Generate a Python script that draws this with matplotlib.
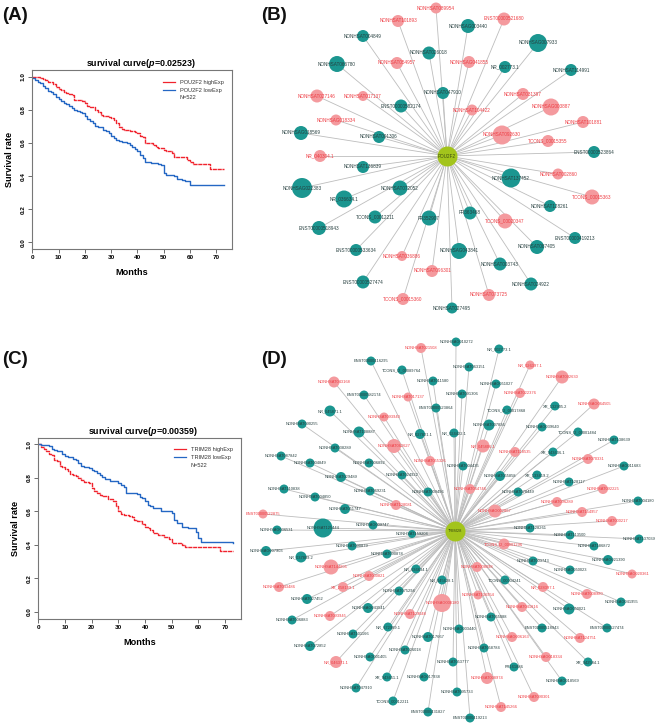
import matplotlib
matplotlib.use("Agg")
import matplotlib.pyplot as plt
from matplotlib.lines import Line2D

plt.rcParams['font.family'] = ['Liberation Sans', 'DejaVu Sans']
plt.rcParams['mathtext.fontset'] = 'custom'
plt.rcParams['mathtext.bfit'] = 'Liberation Sans:italic:bold'
plt.rcParams['mathtext.rm'] = 'Liberation Sans:bold'

W, H = 660, 726
RED, BLUE = '#f0232d', '#2467c4'
PINK, TEAL, HUB = '#f49a9e', '#1b9690', '#a3c41c'
PINK_TXT, TEAL_TXT = '#ee3b42', '#263f3f'

####### survival curves (months, survival rate)
a_high_t = [0, 1, 2, 3, 4, 5, 6, 7, 8, 9, 10, 11, 12, 13, 14, 15, 16, 18, 19, 20, 21, 22, 23, 24, 25, 26, 27, 28, 29, 30, 31, 32, 33, 34, 35, 37, 39, 40, 41, 42, 43, 45, 46, 47, 48, 50, 51, 53, 54, 59, 60, 61, 67.5, 73]
a_high_s = [1.0, .998, .995, .99, .985, .98, .97, .965, .955, .94, .925, .918, .91, .90, .895, .89, .86, .857, .855, .84, .825, .818, .815, .80, .785, .77, .765, .76, .755, .75, .74, .72, .695, .685, .675, .672, .665, .66, .64, .635, .60, .60, .59, .575, .57, .555, .55, .54, .515, .50, .485, .475, .445, .445]
a_low_t = [0, 1, 2, 3, 4, 5, 6, 7, 8, 9, 10, 11, 12, 13, 14, 15, 16, 17, 18, 19, 20, 21, 22, 23, 24, 25, 27, 28, 29, 30, 31, 32, 33, 34, 36, 37, 38, 39, 40, 41, 42, 43, 45, 48, 49, 50, 51, 54, 55, 57, 58, 60, 73]
a_low_s = [.99, .98, .97, .96, .945, .93, .915, .905, .895, .88, .865, .855, .84, .835, .82, .81, .80, .79, .785, .78, .765, .745, .73, .72, .705, .695, .68, .67, .66, .64, .63, .62, .61, .605, .60, .585, .575, .565, .55, .53, .51, .485, .48, .47, .465, .42, .405, .40, .38, .375, .37, .345, .345]

c_high_t = [0, 1, 2, 3, 4, 5, 6, 7, 8, 9, 10, 11, 12, 13, 14, 15, 16, 17, 19, 20, 21, 22, 23, 24, 25, 26, 28, 29, 30, 31, 32, 34, 35, 36, 37, 39, 40, 41, 42, 43, 45, 47, 49, 50, 54, 55, 67, 68, 73]
c_high_s = [1.0, .985, .975, .96, .94, .935, .905, .90, .87, .865, .855, .84, .825, .815, .81, .80, .785, .775, .77, .74, .72, .71, .70, .695, .69, .675, .66, .63, .60, .585, .58, .57, .565, .55, .54, .525, .51, .50, .49, .47, .46, .445, .435, .41, .40, .385, .385, .365, .365]
c_low_t = [0, 1, 4, 5, 6, 7, 9, 10, 11, 13, 14, 15, 16, 17, 19, 20, 21, 22, 23, 24, 25, 27, 30, 31, 32, 33, 37, 38, 39, 40, 41, 42, 43, 46, 50, 51, 52, 54, 56, 59, 60, 61, 73]
c_low_s = [1.0, .995, .99, .97, .965, .96, .945, .93, .925, .915, .905, .89, .87, .865, .86, .85, .84, .83, .82, .805, .795, .78, .77, .76, .745, .71, .705, .685, .68, .66, .64, .63, .62, .605, .59, .55, .53, .51, .50, .48, .44, .415, .41]

####### network B
b_hub = "POU2F2"
b_hub_xy = (447, 156)
b_teal_names = ["NONHSAT004849", "NONHSAT026018", "NONHSAT066780", "NONHSAT047910", "ENST00000582174",
                "NONHSAG018569", "NONHSAT091306", "NONHSAG003440", "NONHSAG007933", "NR_002773.1",
                "NONHSAT114991", "ENST00000523864", "NONHSAT136839", "NONHSAG022383", "NR_036634.1",
                "NONHSAT072052", "TCONS_00012211", "FR352907", "ENST00000518943", "ENST00000533634",
                "ENST00000527474", "NONHSAT137452", "NONHSAT128261", "FR363468", "ENST00000419213",
                "NONHSAT087405", "NONHSAG043841", "NONHSAT003743", "NONHSAT024922", "NONHSAT027495"]
b_teal_x = [363, 429, 337, 443, 401, 301, 379, 468, 538, 505, 571, 594, 363, 302, 344,
            400, 375, 429, 319, 356, 363, 511, 550, 470, 575, 537, 459, 500, 531, 452]
b_teal_y = [36, 53, 64, 93, 106, 133, 137, 26, 43, 67, 70, 152, 167, 188, 199,
            188, 217, 218, 228, 250, 282, 178, 206, 213, 238, 247, 251, 264, 284, 308]
b_teal_r = [6, 6.5, 8, 6, 6.5, 7, 6, 7, 9, 6, 6, 6, 6, 10, 8.5,
            7.5, 6.5, 7.5, 7, 6, 6.5, 9.5, 6, 6.5, 6, 7, 8, 6.5, 6.5, 5.5]
b_pink_names = ["NONHSAT089954", "NONHSAT101893", "NONHSAT054957", "NONHSAT027146", "NONHSAT017137",
                "NONHSAG018334", "NR_040304.1", "ENST00000521680", "NONHSAG041855", "NONHSAT031397",
                "NONHSAG003887", "NONHSAT104422", "NONHSAT101881", "NONHSAT092630", "TCONS_00015355",
                "NONHSAT036886", "NONHSAT096301", "TCONS_00015360", "NONHSAT002860", "TCONS_00015363",
                "TCONS_00020347", "NONHSAT073725"]
b_pink_x = [436, 398, 397, 317, 363, 336, 320, 504, 469, 523, 551, 472, 583, 502, 548,
            402, 432, 403, 558, 592, 505, 489]
b_pink_y = [8, 21, 63, 96, 96, 120, 156, 19, 62, 94, 107, 110, 122, 135, 141,
            256, 271, 299, 174, 197, 221, 295]
b_pink_r = [5.5, 6, 6, 6.5, 5, 5.5, 6, 6.5, 6, 6, 8.5, 5.5, 6, 9.5, 6,
            5, 6, 6, 5.5, 7.5, 7.5, 6]

####### network D
d_hub = "TRIM28"
d_hub_xy = (455, 531)
d_teal_names = ["ENST00000416295", "TCONS_l2_00089764", "NONHSAT011580", "ENST00000582174", "ENST00000523864",
                "NR_045871.1", "NONHSAT090255", "NONHSAT108887", "NR_027821.1", "NONHSAT038289",
                "NONHSAT087842", "NONHSAT004849", "NONHSAT006892", "NONHSAT024922", "NONHSAT029489",
                "NONHSAT110838", "NONHSAT069231", "NONHSAT009456", "NONHSAT004850", "NONHSAT051747",
                "NONHSAG009747", "NONHSAT125444", "NONHSAG036531", "NONHSAT159204", "NONHSAT090879",
                "NONHSAG007903", "NONHSAT090878", "NR_037809.2", "NR_036634.1", "NR_045628.1",
                "NONHSAT075294", "NONHSAT027452", "NONHSAG043541", "NONHSAT006883", "NR_672989.1",
                "NONHSAT101166", "NONHSAT017667", "NONHSAT072852", "NONHSAT026018", "NONHSAG001405",
                "NONHSAG017938", "XR_943651.1", "NONHSAT047910", "TCONS_00012211", "ENST00000431827",
                "NONHSAG050021", "NONHSAG041955", "NONHSAT055088", "NONHSAG003440", "ENST00000518943",
                "ENST00000527474", "NONHSAT058784", "NONHSAT053777", "XR_942584.1", "FR161886",
                "NONHSAG018569", "NONHSAT095733", "ENST00000419213", "NONHSAG010272", "NR_002773.1",
                "NONHSAT063151", "NONHSAG051027", "NONHSAT091306", "XR_132905.2", "TCONS_l2_00017868",
                "NONHSAT007836", "NONHSAG039640", "NR_024422.1", "TCONS_l2_00001484", "NONHSAT138639",
                "XR_943636.1", "NONHSAG011683", "NONHSAT004435", "NONHSAT055858", "XR_133419.2",
                "NONHSAT128117", "NONHSAT078449", "NONHSAT004180", "NONHSAT128261", "NONHSAT113500",
                "NONHSAT137039", "NONHSAT186872", "NONHSAT003743", "NONHSAG021390", "NONHSAG050023",
                "TCONS_00004241"]
d_teal_x = [371, 402, 433, 364, 436, 330, 302, 359, 420, 335, 281, 310, 369, 402, 341,
            284, 370, 428, 315, 345, 373, 323, 277, 412, 352, 266, 387, 301, 416, 442,
            399, 307, 368, 292, 388, 353, 428, 310, 405, 370, 424, 387, 356, 393, 428,
            569, 621, 491, 459, 542, 607, 484, 453, 588, 514, 562, 457, 470, 456, 499,
            469, 496, 462, 555, 507, 489, 542, 454, 578, 614, 553, 624, 463, 500, 537,
            569, 518, 638, 530, 570, 639, 594, 533, 608, 570, 505]
d_teal_y = [361, 370, 381, 395, 408, 411, 424, 432, 434, 448, 456, 463, 463, 475, 477,
            489, 491, 492, 497, 509, 525, 528, 530, 534, 546, 551, 554, 557, 569, 580,
            591, 599, 608, 620, 627, 634, 637, 646, 650, 657, 677, 677, 688, 701, 712,
            609, 602, 617, 629, 628, 628, 648, 662, 662, 667, 681, 692, 718, 342, 349,
            367, 384, 394, 406, 410, 425, 427, 433, 432, 440, 452, 466, 466, 476, 475,
            482, 492, 501, 528, 535, 539, 546, 561, 560, 570, 580]
d_teal_r = [4.5, 4.5, 4.5, 4.5, 4.5, 5.5, 4.5, 5.5, 5, 4.5, 4.5, 4.5, 4.5, 4.5, 5,
            4.5, 4.5, 4.5, 4.5, 5, 4.5, 9.5, 4.5, 4, 4.5, 5, 4.5, 5.5, 4.5, 4.5,
            4.5, 5, 5, 4.5, 4.5, 4.5, 5, 5, 4.5, 4.5, 4.5, 4.5, 4.5, 4.5, 4.5,
            5.5, 4.5, 4.5, 4.5, 4.5, 4.5, 4.5, 4.5, 4.5, 4.5, 4.5, 4.5, 4.5, 4.5, 4.5,
            4.5, 4.5, 4.5, 4.5, 4.5, 5.5, 4.5, 4.5, 4.5, 4.5, 4.5, 4.5, 4.5, 5, 4.5,
            4.5, 4.5, 4.5, 4.5, 4.5, 4.5, 4.5, 4.5, 5, 4.5, 4.5]
d_pink_names = ["NONHSAT021508", "NONHSAT043168", "NONHSAT017137", "NONHSAT093940", "NONHSAT062627",
                "NONHSAT055326", "NONHSAT128081", "ENST00000522875", "NONHSAT144805", "NONHSAT000821",
                "NONHSAT043486", "XR_258139.1", "NONHSAT093945", "NONHSAT129048", "NONHSAG008180",
                "NR_046371.1", "NONHSAT136954", "NONHSAT041816", "NONHSAG006163", "NONHSAT124751",
                "NONHSAG018334", "NONHSAT008974", "NONHSAT090301", "NONHSAT145266", "NR_026397.1",
                "NONHSAT092630", "NONHSAT022376", "NONHSAG064505", "NR_045806.1", "NONHSAT118535",
                "NONHSAT070331", "NONHSAT064746", "NONHSAT092225", "NONHSAT096289", "NONHSAG002867",
                "NONHSAT154957", "NONHSAT000217", "TCONS_l2_00001296", "NONHSAT008098", "NONHSAG020361",
                "NR_028397.1", "NONHSAT008980"]
d_pink_x = [421, 334, 408, 384, 394, 430, 396, 263, 331, 369, 279, 343, 330, 410, 442,
            336, 478, 522, 512, 580, 546, 487, 534, 501, 530, 562, 520, 594, 483, 515,
            588, 470, 603, 557, 495, 582, 612, 504, 477, 632, 543, 587]
d_pink_y = [348, 382, 397, 417, 446, 461, 505, 514, 567, 576, 587, 587, 616, 614, 603,
            662, 595, 607, 637, 638, 657, 678, 697, 707, 365, 377, 393, 404, 446, 452,
            459, 489, 489, 502, 511, 512, 521, 544, 567, 574, 587, 594]
d_pink_r = [5, 5.5, 4.5, 4.5, 7, 5, 5, 4.5, 7.5, 5, 5, 5, 5, 5, 9,
            6, 4.5, 5, 5, 5, 5, 6, 5, 5, 4.5, 6.5, 5, 5.5, 6.5, 5,
            5, 5, 5, 5, 6.5, 5, 5, 5.5, 5, 4.5, 5, 5]


def px_axes(left, top, right, bottom):
    return fig.add_axes([left / W, 1 - bottom / H, (right - left) / W, (bottom - top) / H])


def survival_panel(box, gene, pval, title_x, high, low):
    ax = px_axes(*box)
    ax.step(high[0], high[1], where='post', color=RED, lw=1.0, ls=(0, (3, 0.5)))
    ax.step(low[0], low[1], where='post', color=BLUE, lw=1.0)
    ax.set_xlim(0, 76)
    ax.set_ylim(-0.04, 1.04)
    ax.set_xticks(range(0, 71, 10))
    ax.set_yticks([0, .2, .4, .6, .8, 1.0])
    ax.set_yticklabels(['0.0', '0.2', '0.4', '0.6', '0.8', '1.0'], rotation=90, va='center')
    ax.tick_params(labelsize=4.6, length=3, width=0.5, pad=1.5, color='#333333')
    for lab in ax.get_xticklabels() + ax.get_yticklabels():
        lab.set_fontweight('bold')
    for sp in ax.spines.values():
        sp.set_color('#777777')
        sp.set_linewidth(0.8)
    ax.set_title("survival curve($\\bfit{p}$=%s)" % pval, fontsize=6.4, fontweight='bold', pad=3, x=title_x)
    ax.set_xlabel("Months", fontsize=6.6, fontweight='bold', labelpad=5.5)
    ax.set_ylabel("Survival rate", fontsize=6.6, fontweight='bold', labelpad=5)
    handles = [Line2D([], [], color=RED, lw=0.9), Line2D([], [], color=BLUE, lw=0.9),
               Line2D([], [], color='none')]
    ax.legend(handles, [gene + " highExp", gene + " lowExp", "N=522"], loc='upper right',
              bbox_to_anchor=(0.975, 0.965), frameon=False, fontsize=4.1, labelspacing=0.5,
              handlelength=2.1, handletextpad=0.8, borderpad=0.3, borderaxespad=0.3,
              labelcolor='#333333')
    return ax


def draw_group(ax, hub_xy, names, xs, ys, rs, color, txt_color, fs):
    for x, y in zip(xs, ys):
        ax.plot([hub_xy[0], x], [hub_xy[1], y], color='#bdbdbd', lw=0.6, zorder=1)
    ax.scatter(xs, ys, s=[(2 * r * 0.72) ** 2 for r in rs], color=color, linewidths=0, zorder=2)
    for n, x, y in zip(names, xs, ys):
        ax.text(x, y, n, color=txt_color, fontsize=fs, ha='center', va='center', zorder=3)


fig = plt.figure(figsize=(W / 100, H / 100), dpi=100)

net = fig.add_axes([0, 0, 1, 1])
net.set_xlim(0, W)
net.set_ylim(H, 0)
net.axis('off')

draw_group(net, b_hub_xy, b_teal_names, b_teal_x, b_teal_y, b_teal_r, TEAL, TEAL_TXT, 3.3)
draw_group(net, b_hub_xy, b_pink_names, b_pink_x, b_pink_y, b_pink_r, PINK, PINK_TXT, 3.3)
draw_group(net, d_hub_xy, d_teal_names, d_teal_x, d_teal_y, d_teal_r, TEAL, TEAL_TXT, 2.9)
draw_group(net, d_hub_xy, d_pink_names, d_pink_x, d_pink_y, d_pink_r, PINK, PINK_TXT, 2.9)

net.scatter(*b_hub_xy, s=(2 * 10 * 0.72) ** 2, color=HUB, linewidths=0, zorder=2)
net.text(*b_hub_xy, b_hub, fontsize=3.3, color='#3a4a10', ha='center', va='center', zorder=3)
net.scatter(*d_hub_xy, s=(2 * 10 * 0.72) ** 2, color=HUB, linewidths=0, zorder=2)
net.text(*d_hub_xy, d_hub, fontsize=2.9, color='#3a4a10', ha='center', va='center', zorder=3)

for lab, x, y in [("(A)", 2, 16), ("(B)", 261, 16), ("(C)", 2, 360), ("(D)", 261, 359)]:
    net.text(x, y, lab, fontsize=13.5, fontweight='bold', ha='left', va='center', color='#111111')

survival_panel((32.3, 70, 232, 249), "POU2F2", "0.02523", 0.544, (a_high_t, a_high_s), (a_low_t, a_low_s))
survival_panel((38.3, 437.7, 241, 618.7), "TRIM28", "0.00359", 0.516, (c_high_t, c_high_s), (c_low_t, c_low_s))

fig.savefig("out.png", dpi=100)
